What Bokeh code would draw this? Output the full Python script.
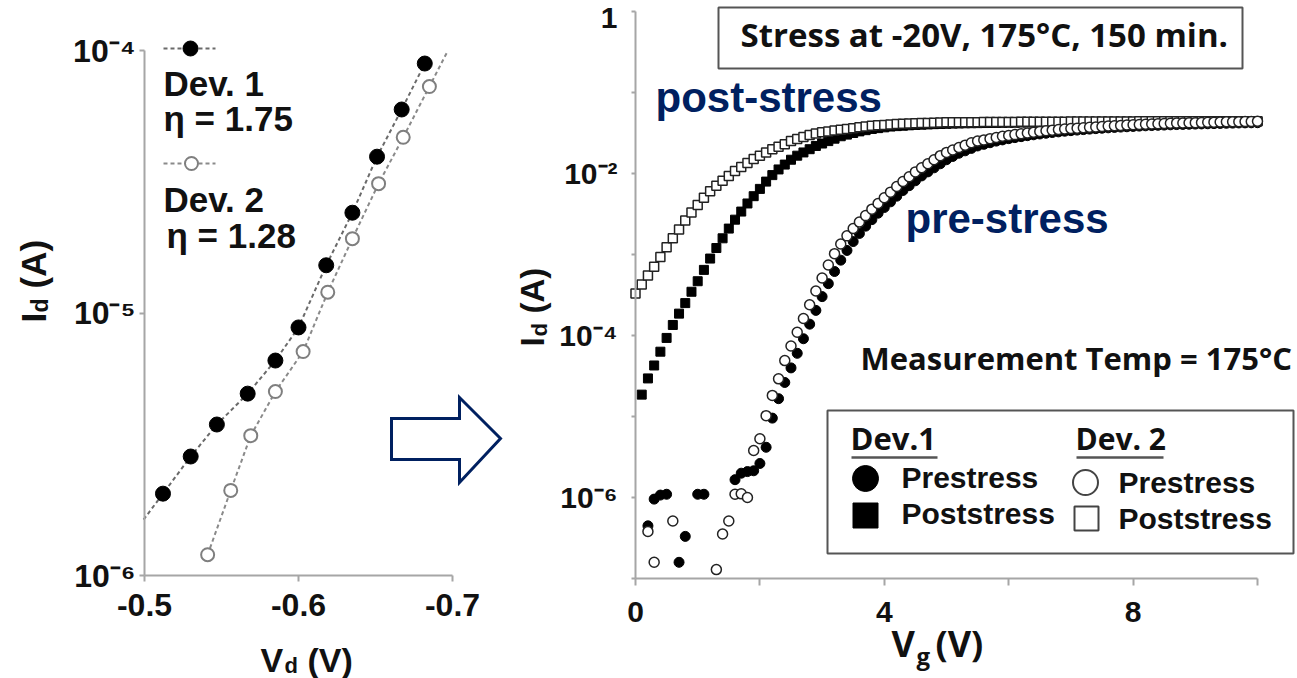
import math
from bokeh.plotting import figure
from bokeh.models import Range1d, FixedTicker, CustomJSTickFormatter, Label
from bokeh.layouts import row
from bokeh.embed import file_html
from bokeh.resources import INLINE

# ---------------- Left panel data: Id vs Vd ----------------
vd_dev1 = [-0.512, -0.530, -0.547, -0.567, -0.585, -0.600, -0.618, -0.635, -0.651, -0.667, -0.682]
id_dev1 = [2.05e-6, 2.84e-6, 3.76e-6, 4.93e-6, 6.59e-6, 8.81e-6, 1.52e-5, 2.41e-5, 3.94e-5, 5.96e-5, 8.92e-5]
vd_dev2 = [-0.541, -0.556, -0.569, -0.585, -0.603, -0.619, -0.635, -0.652, -0.668, -0.685]
id_dev2 = [1.20e-6, 2.11e-6, 3.41e-6, 5.02e-6, 7.13e-6, 1.20e-5, 1.92e-5, 3.11e-5, 4.67e-5, 7.29e-5]
left_names = ["Dev. 1", "Dev. 2"]
left_eta = ["\u03b7 = 1.75", "\u03b7 = 1.28"]
left_xticks = [-0.5, -0.6, -0.7]
left_xlabels = ["-0.5", "-0.6", "-0.7"]
left_yticks = [1e-6, 1e-5, 1e-4]
left_ylabels = ["10\u207b\u2076", "10\u207b\u2075", "10\u207b\u2074"]

# ---------------- Right panel data: Id vs Vg (log10 of Id in A) ----------------
vg_sweep = [round(0.1 * i, 1) for i in range(101)]

vg_dev2_post = vg_sweep
log_id_dev2_post = [
    -3.48, -3.37, -3.26, -3.15, -3.03, -2.91, -2.80, -2.69, -2.58, -2.48,
    -2.39, -2.30, -2.22, -2.15, -2.09, -2.03, -1.97, -1.92, -1.87, -1.82,
    -1.78, -1.74, -1.70, -1.67, -1.64, -1.60, -1.575, -1.55, -1.525, -1.505,
    -1.49, -1.48, -1.47, -1.46, -1.45, -1.44, -1.43, -1.42, -1.41, -1.405,
    -1.40, -1.395, -1.39, -1.387, -1.384, -1.381, -1.378, -1.375, -1.372, -1.370,
    -1.368, -1.368, -1.367, -1.367, -1.366, -1.366, -1.365, -1.365, -1.364, -1.364,
    -1.363, -1.363, -1.362, -1.362, -1.361, -1.361, -1.361, -1.360, -1.360, -1.360,
    -1.359, -1.359, -1.359, -1.358, -1.358, -1.358, -1.358, -1.357, -1.357, -1.357,
    -1.357, -1.356, -1.356, -1.356, -1.356, -1.356, -1.355, -1.355, -1.355, -1.355,
    -1.355, -1.355, -1.354, -1.354, -1.354, -1.354, -1.354, -1.354, -1.354, -1.354,
    -1.354]

vg_dev1_post = vg_sweep[1:]
log_id_dev1_post = [
    -4.73, -4.53, -4.37, -4.20, -4.03, -3.87, -3.73, -3.60, -3.46, -3.33,
    -3.19, -3.05, -2.92, -2.80, -2.68, -2.57, -2.47, -2.37, -2.28, -2.19,
    -2.10, -2.02, -1.95, -1.89, -1.83, -1.78, -1.74, -1.70, -1.66, -1.63,
    -1.60, -1.57, -1.54, -1.52, -1.50, -1.48, -1.465, -1.45, -1.44, -1.43,
    -1.42, -1.415, -1.41, -1.405, -1.40, -1.397, -1.394, -1.391, -1.388, -1.386,
    -1.384, -1.382, -1.380, -1.379, -1.378, -1.377, -1.376, -1.375, -1.374, -1.373,
    -1.372, -1.371, -1.370, -1.369, -1.368, -1.367, -1.367, -1.366, -1.366, -1.365,
    -1.365, -1.364, -1.364, -1.363, -1.363, -1.362, -1.362, -1.362, -1.361, -1.361,
    -1.361, -1.360, -1.360, -1.360, -1.359, -1.359, -1.359, -1.359, -1.358, -1.358,
    -1.358, -1.358, -1.357, -1.357, -1.357, -1.357, -1.357, -1.357, -1.356, -1.356]

vg_dev1_pre = [0.2, 0.3, 0.4, 0.5, 0.7, 0.8, 1.0, 1.1] + vg_sweep[16:]
log_id_dev1_pre = [
    -6.35, -6.02, -5.97, -5.96, -6.80, -6.48, -5.96, -5.96,
    -5.78, -5.70, -5.68, -5.67,
    -5.58, -5.38, -5.02, -4.78, -4.58, -4.40, -4.22, -4.04, -3.86, -3.69,
    -3.52, -3.36, -3.21, -3.07, -2.95, -2.84, -2.74, -2.65, -2.57, -2.49,
    -2.42, -2.35, -2.28, -2.21, -2.15, -2.09, -2.03, -1.98, -1.93, -1.88,
    -1.83, -1.79, -1.75, -1.72, -1.69, -1.66, -1.64, -1.62, -1.60, -1.585,
    -1.57, -1.557, -1.545, -1.533, -1.522, -1.512, -1.503, -1.494, -1.486, -1.478,
    -1.471, -1.464, -1.458, -1.452, -1.446, -1.441, -1.436, -1.431, -1.427, -1.423,
    -1.419, -1.415, -1.411, -1.408, -1.405, -1.402, -1.399, -1.396, -1.394, -1.392,
    -1.390, -1.388, -1.386, -1.384, -1.382, -1.380, -1.378, -1.376, -1.375, -1.374,
    -1.373]

vg_dev2_pre = [0.2, 0.3, 0.6, 1.3, 1.4, 1.5] + vg_sweep[16:]
log_id_dev2_pre = [
    -6.42, -6.80, -6.29, -6.89, -6.45, -6.29,
    -5.96, -5.955, -6.00, -5.42,
    -5.275, -4.99, -4.74, -4.535, -4.31, -4.13, -3.96, -3.79, -3.62, -3.45,
    -3.29, -3.13, -2.99, -2.87, -2.77, -2.68, -2.60, -2.52, -2.44, -2.37,
    -2.30, -2.23, -2.16, -2.10, -2.04, -1.98, -1.93, -1.88, -1.83, -1.78,
    -1.74, -1.71, -1.68, -1.65, -1.62, -1.60, -1.585, -1.57, -1.555, -1.54,
    -1.53, -1.52, -1.51, -1.50, -1.49, -1.48, -1.472, -1.465, -1.458, -1.451,
    -1.445, -1.44, -1.435, -1.43, -1.425, -1.42, -1.415, -1.41, -1.406, -1.402,
    -1.398, -1.395, -1.392, -1.389, -1.386, -1.383, -1.38, -1.378, -1.376, -1.374,
    -1.372, -1.37, -1.368, -1.366, -1.364, -1.362, -1.361, -1.36, -1.359, -1.358,
    -1.356]

right_xticks = [0, 2, 4, 6, 8, 10]
right_xlabels = ["0", "", "4", "", "8", ""]
right_yticks = [1e-7, 1e-6, 1e-5, 1e-4, 1e-3, 1e-2, 1e-1, 1.0]
right_ylabels = ["", "10\u207b\u2076", "", "10\u207b\u2074", "", "10\u207b\u00b2", "", "1"]
right_series_names = ["Prestress", "Poststress"]
right_dev_names = ["Dev.1", "Dev. 2"]
stress_note = "Stress at -20V, 175\u00b0C, 150 min."
temp_note = "Measurement Temp = 175\u00b0C"

for a, b in [(vg_dev2_post, log_id_dev2_post), (vg_dev1_post, log_id_dev1_post),
             (vg_dev1_pre, log_id_dev1_pre), (vg_dev2_pre, log_id_dev2_pre)]:
    if len(a) != len(b):
        raise SystemExit(f"length mismatch {len(a)} {len(b)}")

# ---------------- styling / geometry ----------------
ARIAL = "Liberation Sans"
CAL = "Open Sans"
NAVY = "#002060"
AXC = "#a6a6a6"
TXT = "#111111"
LW, RW, H = 505, 792, 678

# Each figure's frame fills the whole figure; axes are pinned with fixed_location.
# left panel, page px: -0.5 V at x=144, 1540 px / V ; 1e-6 A at y=575, 262.5 px / decade
def lx(px): return -0.5 - (px - 144) / 1540.0
def ly(py): return 10 ** (-6.0 + (575 - py) / 262.5)
# right panel, page px: 0 V at x=635, 62.2 px / V ; 1e-7 A at y=578, 81 px / decade
def rx(px): return (px - 635) / 62.2
def ry(py): return 10 ** (-7.0 + (578 - py) / 81.0)


def fixed_labels(tvals, tlabels):
    return CustomJSTickFormatter(args=dict(tvals=tvals, tlabels=tlabels), code="""
        for (let i = 0; i < tvals.length; i++) {
            if (Math.abs(tvals[i] - tick) <= 1e-6 * Math.abs(tvals[i])) return tlabels[i];
        }
        return "";
    """)


def style_axis(ax, tvals, tlabels, size, tick_out, standoff):
    ax.ticker = FixedTicker(ticks=tvals)
    ax.formatter = fixed_labels(tvals, tlabels)
    ax.bounds = (min(tvals), max(tvals))
    ax.axis_line_color = AXC
    ax.axis_line_width = 2
    ax.major_tick_line_color = AXC
    ax.major_tick_line_width = 2
    ax.major_tick_in = 0
    ax.major_tick_out = tick_out
    ax.minor_tick_line_color = None
    ax.major_label_text_font = ARIAL
    ax.major_label_text_font_style = "bold"
    ax.major_label_text_font_size = f"{size}px"
    ax.major_label_text_color = TXT
    ax.major_label_standoff = standoff


K_BASE = 0.35  # Label baseline correction (fraction of font size)

def text(p, fx, fy, px, py, s, size, font=ARIAL, color=TXT, rotate=False):
    if rotate:
        x, y, ang = fx(px - K_BASE * size), fy(py), math.pi / 2
    else:
        x, y, ang = fx(px), fy(py - K_BASE * size), 0.0
    p.add_layout(Label(x=x, y=y, text=s, text_font=font, text_font_size=f"{size}px",
                       text_font_style="bold", text_color=color, angle=ang,
                       text_align="left", text_baseline="alphabetic"))


def make_fig(w, fx, fy, x_left_px, x_right_px):
    p = figure(width=w, height=H, y_axis_type="log",
               x_range=Range1d(fx(x_left_px), fx(x_right_px)), y_range=Range1d(fy(H), fy(0)),
               min_border=0, min_border_left=0, min_border_right=0, min_border_top=0,
               min_border_bottom=0, output_backend="svg", toolbar_location=None)
    p.grid.visible = False
    p.outline_line_color = None
    p.background_fill_color = "white"
    p.border_fill_color = "white"
    return p


# ================= LEFT FIGURE =================
pl = make_fig(LW, lx, ly, 0, LW)
style_axis(pl.xaxis[0], left_xticks, left_xlabels, 32, 6, 12)
style_axis(pl.yaxis[0], left_yticks, left_ylabels, 32, 5, 4)
pl.xaxis[0].fixed_location = min(left_yticks)
pl.yaxis[0].fixed_location = max(left_xticks)

# dashed guide lines: through the points, extended along the end segment
def ext(v, i, k=0.7):
    la, lb = math.log10(i[0]), math.log10(i[1])
    return v[0] + (v[0] - v[1]) * k, 10 ** (la + (la - lb) * k)

v0, i0 = ext(vd_dev1, id_dev1)
pl.line([v0] + vd_dev1, [i0] + id_dev1, line_color="#6a6a6a", line_width=2, line_dash="4 3")
v1, i1 = ext(vd_dev2[::-1], id_dev2[::-1])
pl.line(vd_dev2 + [v1], id_dev2 + [i1], line_color="#8a8a8a", line_width=2, line_dash="4 3")
pl.scatter(vd_dev1, id_dev1, marker="circle", size=15, fill_color="black", line_color="black")
pl.scatter(vd_dev2, id_dev2, marker="circle", size=13, fill_color="white", line_color="#7f7f7f", line_width=2)

# left legend
pl.line([lx(163), lx(215)], [ly(48)] * 2, line_color="#6a6a6a", line_width=2, line_dash="4 3")
pl.scatter([lx(190)], [ly(48)], marker="circle", size=15, fill_color="black", line_color="black")
pl.line([lx(163), lx(215)], [ly(163)] * 2, line_color="#8a8a8a", line_width=2, line_dash="4 3")
pl.scatter([lx(191)], [ly(163)], marker="circle", size=13, fill_color="white", line_color="#7f7f7f", line_width=2)
text(pl, lx, ly, 163, 95, left_names[0], 35)
text(pl, lx, ly, 163, 130, left_eta[0], 35)
text(pl, lx, ly, 163, 211, left_names[1], 35)
text(pl, lx, ly, 166, 247, left_eta[1], 35)

# axis titles (with subscripts)
text(pl, lx, ly, 45, 322, "I", 35, rotate=True)
text(pl, lx, ly, 48, 312, "d", 23, rotate=True)
text(pl, lx, ly, 45, 288, "(A)", 35, rotate=True)
text(pl, lx, ly, 260, 671, "V", 34)
text(pl, lx, ly, 284, 673, "d", 22)
text(pl, lx, ly, 307, 671, "(V)", 34)

# hollow arrow
ax_px = [391, 459, 459, 500, 459, 459, 391]
ay_px = [418, 418, 397, 438, 482, 459, 459]
pl.patch([lx(x) for x in ax_px], [ly(y) for y in ay_px], fill_color="white",
         line_color=NAVY, line_width=3, line_join="miter")

# ================= RIGHT FIGURE =================
pr = make_fig(RW, rx, ry, LW, LW + RW)
style_axis(pr.xaxis[0], right_xticks, right_xlabels, 30, 7, 16)
style_axis(pr.yaxis[0], right_yticks, right_ylabels, 30, 4, 14)
pr.xaxis[0].fixed_location = min(right_yticks)
pr.yaxis[0].fixed_location = min(right_xticks)

def amps(logs): return [10 ** v for v in logs]

pr.scatter(vg_dev1_post, amps(log_id_dev1_post), marker="square", size=9, fill_color="black", line_color="black")
pr.scatter(vg_dev1_pre, amps(log_id_dev1_pre), marker="circle", size=10, fill_color="black", line_color="black")
pr.scatter(vg_dev2_post, amps(log_id_dev2_post), marker="square", size=9, fill_color="white", line_color="#222222", line_width=1.5)
pr.scatter(vg_dev2_pre, amps(log_id_dev2_pre), marker="circle", size=10, fill_color="white", line_color="#222222", line_width=1.5)

# stress box
pr.quad(left=rx(718), right=rx(1242), top=ry(7), bottom=ry(68), fill_color="white", line_color="#555555", line_width=2)
text(pr, rx, ry, 740, 46, stress_note, 33, font=CAL)
text(pr, rx, ry, 655, 112, "post-stress", 42, color=NAVY)
text(pr, rx, ry, 905, 233, "pre-stress", 42, color=NAVY)
text(pr, rx, ry, 860, 368, temp_note, 31, font=CAL)

# legend box
pr.quad(left=rx(827), right=rx(1293), top=ry(410), bottom=ry(553), fill_color="white", line_color="#555555", line_width=2)
text(pr, rx, ry, 850, 448, right_dev_names[0], 31, font=CAL)
text(pr, rx, ry, 1075, 448, right_dev_names[1], 30, font=CAL)
pr.line([rx(851), rx(937)], [ry(457)] * 2, line_color="#555555", line_width=2.5)
pr.line([rx(1076), rx(1163)], [ry(457)] * 2, line_color="#555555", line_width=2.5)
pr.scatter([rx(865)], [ry(478)], marker="circle", size=26, fill_color="black", line_color="black")
pr.scatter([rx(865)], [ry(515)], marker="square", size=25, fill_color="black", line_color="black")
pr.scatter([rx(1085)], [ry(482)], marker="circle", size=25, fill_color="white", line_color="#444444", line_width=2)
pr.scatter([rx(1086)], [ry(518)], marker="square", size=24, fill_color="white", line_color="#444444", line_width=2)
text(pr, rx, ry, 901, 487, right_series_names[0], 30)
text(pr, rx, ry, 901, 523, right_series_names[1], 30)
text(pr, rx, ry, 1118, 492, right_series_names[0], 30)
text(pr, rx, ry, 1118, 528, right_series_names[1], 30)

# axis titles
text(pr, rx, ry, 544, 346, "I", 33, rotate=True)
text(pr, rx, ry, 547, 336, "d", 22, rotate=True)
text(pr, rx, ry, 544, 313, "(A)", 33, rotate=True)
text(pr, rx, ry, 891, 656, "V", 36, font=CAL)
text(pr, rx, ry, 916, 663, "g", 24, font=CAL)
text(pr, rx, ry, 935, 656, "(V)", 36, font=CAL)

page = row(pl, pr)
open("out.html", "w").write(file_html(page, INLINE))
